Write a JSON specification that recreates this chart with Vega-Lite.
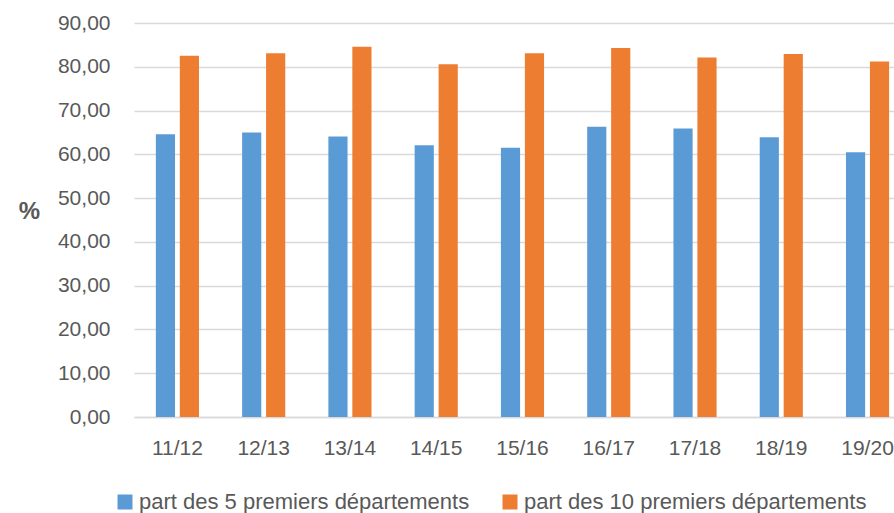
{
  "$schema": "https://vega.github.io/schema/vega-lite/v6.json",
  "width": 760,
  "height": 394,
  "autosize": {"type": "none"},
  "padding": {"left": 134, "top": 23, "right": 0, "bottom": 96},
  "background": "white",
  "data": {
    "values": [
      {"annee": "11/12", "serie": "part des 5 premiers départements", "valeur": 64.6},
      {"annee": "11/12", "serie": "part des 10 premiers départements", "valeur": 82.5},
      {"annee": "12/13", "serie": "part des 5 premiers départements", "valeur": 65.0},
      {"annee": "12/13", "serie": "part des 10 premiers départements", "valeur": 83.1},
      {"annee": "13/14", "serie": "part des 5 premiers départements", "valeur": 64.1},
      {"annee": "13/14", "serie": "part des 10 premiers départements", "valeur": 84.6},
      {"annee": "14/15", "serie": "part des 5 premiers départements", "valeur": 62.1},
      {"annee": "14/15", "serie": "part des 10 premiers départements", "valeur": 80.6},
      {"annee": "15/16", "serie": "part des 5 premiers départements", "valeur": 61.5},
      {"annee": "15/16", "serie": "part des 10 premiers départements", "valeur": 83.1},
      {"annee": "16/17", "serie": "part des 5 premiers départements", "valeur": 66.3},
      {"annee": "16/17", "serie": "part des 10 premiers départements", "valeur": 84.3},
      {"annee": "17/18", "serie": "part des 5 premiers départements", "valeur": 65.9},
      {"annee": "17/18", "serie": "part des 10 premiers départements", "valeur": 82.1},
      {"annee": "18/19", "serie": "part des 5 premiers départements", "valeur": 63.9},
      {"annee": "18/19", "serie": "part des 10 premiers départements", "valeur": 82.9},
      {"annee": "19/20", "serie": "part des 5 premiers départements", "valeur": 60.5},
      {"annee": "19/20", "serie": "part des 10 premiers départements", "valeur": 81.2}
    ]
  },
  "mark": {"type": "bar"},
  "encoding": {
    "x": {
      "field": "annee",
      "type": "nominal",
      "sort": null,
      "scale": {"paddingInner": 0.5, "paddingOuter": 0.155, "align": 0.817},
      "axis": {
        "title": null,
        "labelAngle": 0,
        "labelFont": "Liberation Sans",
        "labelFontSize": 21,
        "labelColor": "#595959",
        "labelPadding": 20,
        "labelBaseline": "top",
        "ticks": false,
        "domainColor": "#D9D9D9",
        "domainWidth": 1.5,
        "grid": false
      }
    },
    "xOffset": {
      "field": "serie",
      "type": "nominal",
      "sort": ["part des 5 premiers départements", "part des 10 premiers départements"],
      "scale": {"paddingInner": 0.2, "paddingOuter": 0}
    },
    "y": {
      "field": "valeur",
      "type": "quantitative",
      "scale": {"domain": [0, 90], "nice": false},
      "axis": {
        "title": "%",
        "titleAngle": 0,
        "titleX": -105,
        "titleY": 188,
        "titleAlign": "center",
        "titleBaseline": "middle",
        "titleFont": "Liberation Sans",
        "titleFontSize": 24,
        "titleFontWeight": "bold",
        "titleColor": "#595959",
        "values": [0, 10, 20, 30, 40, 50, 60, 70, 80, 90],
        "labelExpr": "replace(format(datum.value, '.2f'), '.', ',')",
        "labelFont": "Liberation Sans",
        "labelFontSize": 21,
        "labelColor": "#595959",
        "labelPadding": 24,
        "ticks": false,
        "domain": false,
        "gridColor": "#D9D9D9",
        "gridWidth": 1.5
      }
    },
    "color": {
      "field": "serie",
      "type": "nominal",
      "sort": ["part des 5 premiers départements", "part des 10 premiers départements"],
      "scale": {"range": ["#5B9BD5", "#ED7D31"]},
      "legend": {
        "title": null,
        "orient": "none",
        "direction": "horizontal",
        "legendX": -20,
        "legendY": 468,
        "padding": 0,
        "symbolType": "square",
        "symbolSize": 225,
        "symbolStrokeWidth": 0,
        "labelFont": "Liberation Sans",
        "labelFontSize": 22,
        "labelColor": "#595959",
        "labelOffset": 3,
        "labelLimit": 0,
        "columnPadding": 29
      }
    }
  },
  "config": {"view": {"stroke": null}}
}
